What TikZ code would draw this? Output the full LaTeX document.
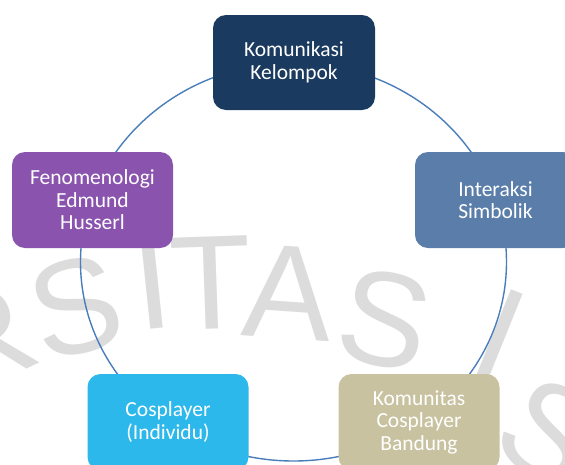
\documentclass[tikz,border=0pt]{standalone}
\usepackage{fontspec}
\setmainfont{Carlito}
\newfontfamily\wmfont{Liberation Sans}
\definecolor{cnavy}{HTML}{1B3A60}
\definecolor{csteel}{HTML}{5A7DAA}
\definecolor{cpurple}{HTML}{8A54AE}
\definecolor{ccyan}{HTML}{2CB8EB}
\definecolor{ctan}{HTML}{C8C2A0}
\definecolor{cline}{HTML}{4A7EBB}
\definecolor{wmgray}{HTML}{DCDCDC}
\begin{document}
\begin{tikzpicture}[x=1pt,y=-1pt,
  box/.style={rounded corners=13pt, minimum width=161pt, minimum height=96pt,
    text=white, align=center, inner sep=0pt,
    font=\fontsize{21.5}{22.5}\selectfont},
  wm/.style={text=wmgray, inner sep=0pt, font=\wmfont\fontsize{134}{134}\selectfont},
  ring/.style={draw=cline, line width=1.4pt}]
\useasboundingbox (0,0) rectangle (565,464);
\begin{scope}
\clip (0,0) rectangle (565,464);
% watermark letters
\node[wm, rotate=26] (w0) at (-18,340) {R};
\node[wm, rotate=14] (w1) at (76,307) {S};
\node[wm, rotate=6] (w2) at (152,283) {I};
\node[wm, rotate=2] (w3) at (211,283) {T};
\node[wm, rotate=-4] (w4) at (288,293) {A};
\node[wm, rotate=-12] (w5) at (385,320) {S};
\node[wm, rotate=-22] (w6) at (500,335) {I};
\node[wm, rotate=-32] (w7) at (550,432) {S};
% ring
\coordinate (c) at (293.5,262);
\draw[ring] (c) ellipse [x radius=213, y radius=199];
% nodes
\node[box, fill=cnavy, minimum width=162pt, minimum height=95pt] (kk) at (294,62.5) {Komunikasi\\Kelompok};
\node[box, fill=csteel] (is) at (495.5,200) {Interaksi\\Simbolik};
\node[box, fill=cpurple] (fe) at (92.5,200) {Fenomenologi\\Edmund\\Husserl};
\node[box, fill=ccyan] (co) at (168,422) {Cosplayer\\(Individu)};
\node[box, fill=ctan] (km) at (419,422) {Komunitas\\Cosplayer\\Bandung};
\end{scope}
\end{tikzpicture}
\end{document}
